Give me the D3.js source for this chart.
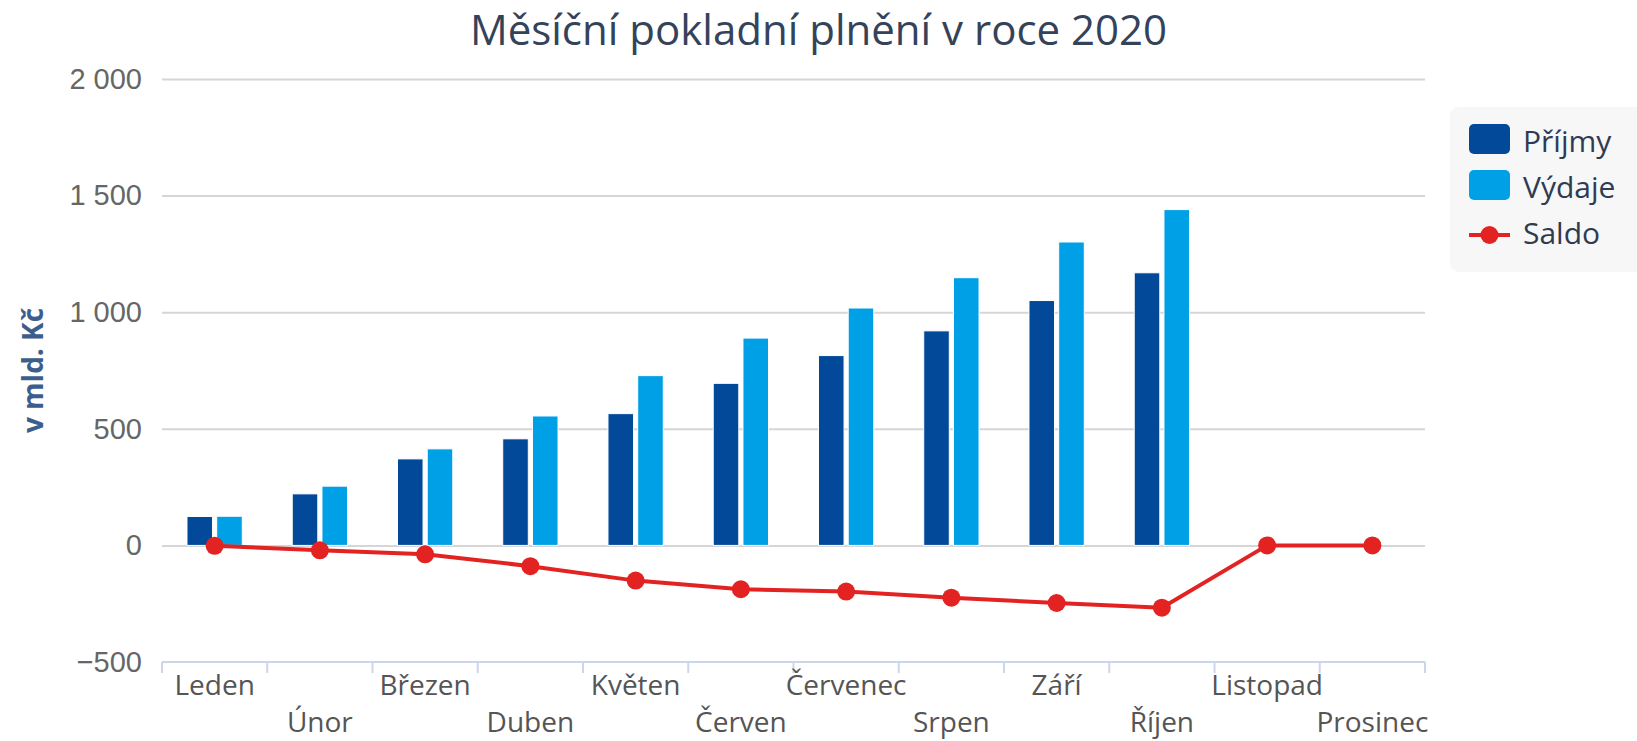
<!DOCTYPE html>
<html lang="cs">
<head>
    <meta charset="UTF-8">
    <title>Měsíční pokladní plnění v roce 2020</title>
    <script src="https://cdnjs.cloudflare.com/ajax/libs/d3/7.8.5/d3.min.js"></script>
    <style>
        body {
            margin: 0;
            background: #fff;
            font-family: "Open Sans", sans-serif;
        }
        svg { display: block; }
        .grid line { stroke: #d6d6d6; stroke-width: 2px; }
        .grid path { display: none; }
        .y-axis path, .y-axis line { display: none; }
        .y-axis text { font-size: 29px; fill: #666; }
        .x-axis line { stroke: #ccd6eb; stroke-width: 2px; }
        .x-axis text { font-size: 28px; fill: #555; }
        .legend text { font-size: 30px; fill: #2f3b52; }
    </style>
</head>
<body>
    <div id="chart"></div>

    <script>
        // Data
        const months = ["Leden", "Únor", "Březen", "Duben", "Květen", "Červen",
                        "Červenec", "Srpen", "Září", "Říjen", "Listopad", "Prosinec"];
        const prijmy = [124, 221, 371, 457, 565, 695, 814, 920, 1050, 1169, null, null];
        const vydaje = [125, 254, 414, 555, 728, 889, 1018, 1148, 1301, 1440, null, null];
        const saldo  = [-2, -21, -38, -89, -151, -188, -198, -224, -247, -267, 0, 0];
        const yTicks = [-500, 0, 500, 1000, 1500, 2000];
        const seriesNames = ["Příjmy", "Výdaje", "Saldo"];

        const colors = { "Příjmy": "#03499a", "Výdaje": "#00a0e6", "Saldo": "#e32222" };

        // Setup
        const width = 1637, height = 741;
        const margin = { top: 79, right: 212, bottom: 79, left: 162 };

        const svg = d3.select("#chart").append("svg")
            .attr("width", width)
            .attr("height", height);

        const x = d3.scaleBand()
            .domain(months)
            .range([margin.left, width - margin.right]);

        const x1 = d3.scaleBand()
            .domain(["Příjmy", "Výdaje"])
            .range([0, x.bandwidth()])
            .paddingInner(0.14)
            .paddingOuter(0.84);

        const y = d3.scaleLinear()
            .domain([-500, 2000])
            .range([height - margin.bottom, margin.top]);

        // Title
        svg.append("text")
            .attr("x", width / 2)
            .attr("y", 45)
            .attr("text-anchor", "middle")
            .style("font-size", "42px")
            .style("fill", "#34435a")
            .text("Měsíční pokladní plnění v roce 2020");

        // Gridlines
        svg.append("g")
            .attr("class", "grid")
            .attr("transform", `translate(${margin.left},0)`)
            .call(d3.axisLeft(y).tickValues(yTicks.filter(t => t > -500))
                .tickSize(-(width - margin.left - margin.right)).tickFormat(""));

        // Y axis labels
        const fmt = v => d3.format(",")(v).replace(/,/g, " ").replace("-", "−");
        svg.append("g")
            .attr("class", "y-axis")
            .attr("transform", `translate(${margin.left - 20},0)`)
            .call(d3.axisLeft(y).tickValues(yTicks).tickSize(0).tickPadding(0).tickFormat(fmt));

        // Y axis title
        svg.append("text")
            .attr("transform", `translate(43,${(margin.top + height - margin.bottom) / 2}) rotate(-90)`)
            .attr("text-anchor", "middle")
            .style("font-size", "28px")
            .style("font-weight", "bold")
            .style("fill", "#3b5e8c")
            .text("v mld. Kč");

        // X axis with ticks at category boundaries
        const xAxis = svg.append("g")
            .attr("class", "x-axis")
            .attr("transform", `translate(0,${y(-500)})`);

        xAxis.append("line")
            .attr("x1", margin.left).attr("x2", width - margin.right)
            .attr("y1", 0).attr("y2", 0);

        const bounds = months.map(m => x(m)).concat([x(months[months.length - 1]) + x.bandwidth()]);
        xAxis.selectAll(".tick-line")
            .data(bounds)
            .join("line")
            .attr("x1", d => d).attr("x2", d => d)
            .attr("y1", 0).attr("y2", 11);

        xAxis.selectAll(".lbl")
            .data(months)
            .join("text")
            .attr("x", d => x(d) + x.bandwidth() / 2)
            .attr("y", (d, i) => i % 2 === 0 ? 33 : 70)
            .attr("text-anchor", "middle")
            .text(d => d);

        // Bars
        const barData = [];
        months.forEach((m, i) => {
            if (prijmy[i] != null) barData.push({ month: m, key: "Příjmy", value: prijmy[i] });
            if (vydaje[i] != null) barData.push({ month: m, key: "Výdaje", value: vydaje[i] });
        });

        svg.append("g")
            .selectAll("rect")
            .data(barData)
            .join("rect")
            .attr("x", d => x(d.month) + x1(d.key))
            .attr("y", d => y(d.value))
            .attr("width", x1.bandwidth())
            .attr("height", d => y(0) - y(d.value))
            .attr("fill", d => colors[d.key])
            .attr("stroke", "#fff")
            .attr("stroke-width", 1);

        // Saldo line
        const line = d3.line()
            .x((d, i) => x(months[i]) + x.bandwidth() / 2)
            .y(d => y(d));

        svg.append("path")
            .datum(saldo)
            .attr("fill", "none")
            .attr("stroke", colors["Saldo"])
            .attr("stroke-width", 4)
            .attr("d", line);

        svg.append("g")
            .selectAll("circle")
            .data(saldo)
            .join("circle")
            .attr("cx", (d, i) => x(months[i]) + x.bandwidth() / 2)
            .attr("cy", d => y(d))
            .attr("r", 9)
            .attr("fill", colors["Saldo"]);

        // Legend
        const legend = svg.append("g").attr("class", "legend");
        legend.append("rect")
            .attr("x", 1450).attr("y", 107)
            .attr("width", 200).attr("height", 165)
            .attr("rx", 9)
            .attr("fill", "#f7f7f7");

        const items = legend.selectAll(".item")
            .data(seriesNames)
            .join("g")
            .attr("transform", (d, i) => `translate(1469,${124 + i * 46})`);

        items.filter(d => d !== "Saldo").append("rect")
            .attr("width", 41).attr("height", 30)
            .attr("rx", 5)
            .attr("fill", d => colors[d]);

        const saldoItem = items.filter(d => d === "Saldo");
        saldoItem.append("line")
            .attr("x1", 0).attr("x2", 41)
            .attr("y1", 19).attr("y2", 19)
            .attr("stroke", colors["Saldo"])
            .attr("stroke-width", 4);
        saldoItem.append("circle")
            .attr("cx", 20.5).attr("cy", 19).attr("r", 9)
            .attr("fill", colors["Saldo"]);

        items.append("text")
            .attr("x", 54)
            .attr("y", 28)
            .text(d => d);
    </script>
</body>
</html>
